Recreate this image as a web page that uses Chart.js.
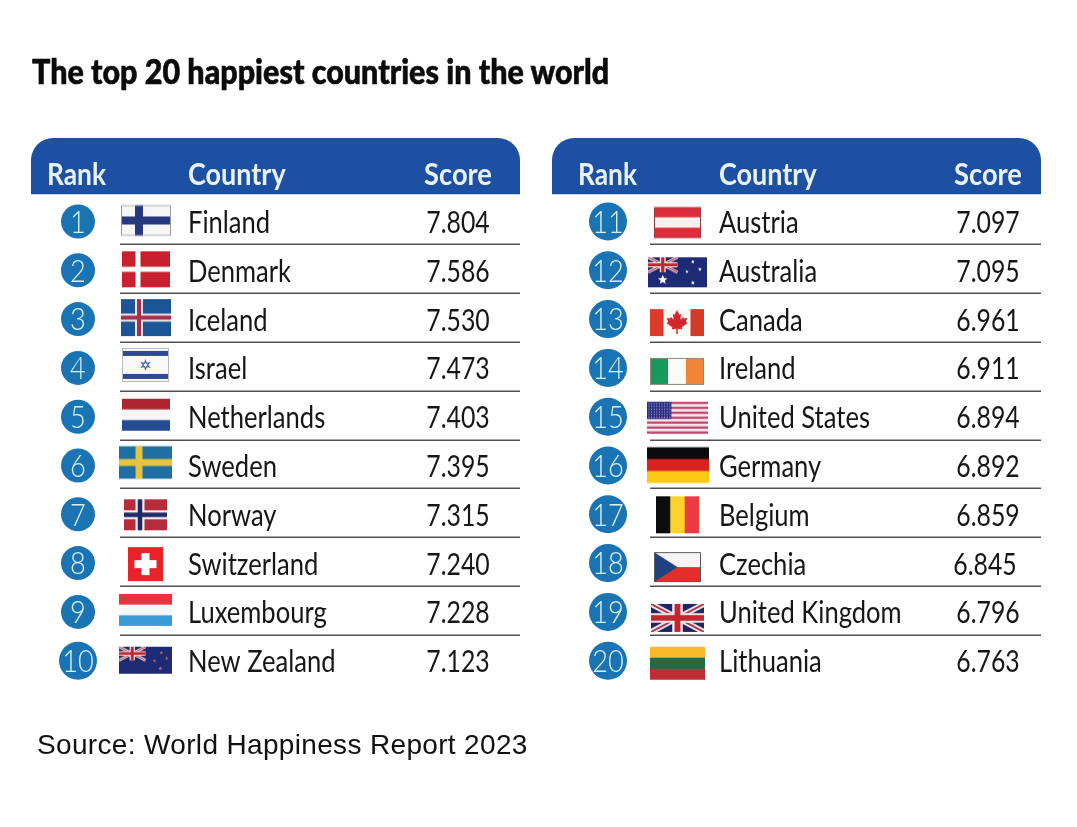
<!DOCTYPE html>
<html>
<head>
<meta charset="utf-8">
<title>The top 20 happiest countries in the world</title>
<script src="https://cdn.jsdelivr.net/npm/chart.js@4"></script>
<style>
  html, body { margin: 0; background: #fff; }
  #wrap { position: relative; width: 1077px; height: 827px; overflow: hidden; }
  canvas { position: absolute; left: 0; top: 0; }
  #title { position: absolute; left: 32px; top: 50px; margin: 0; white-space: nowrap; color: #0b0b0b;
    font: 900 34px Lato, "Liberation Sans", sans-serif; -webkit-text-stroke: 0.6px #0b0b0b; transform-origin: left top; }
  #source { position: absolute; left: 37px; top: 729px; white-space: nowrap; color: #111;
    font: 28px "Liberation Sans", sans-serif; letter-spacing: 0.34px; }
</style>
</head>
<body>
<div id="wrap">
  <canvas id="table" width="1077" height="827"></canvas>
  <h1 id="title">The top 20 happiest countries in the world</h1>
  <div id="source">Source: World Happiness Report 2023</div>
</div>
<script>
const ranks = [1, 2, 3, 4, 5, 6, 7, 8, 9, 10, 11, 12, 13, 14, 15, 16, 17, 18, 19, 20];
const countries = ['Finland', 'Denmark', 'Iceland', 'Israel', 'Netherlands', 'Sweden', 'Norway',
  'Switzerland', 'Luxembourg', 'New Zealand', 'Austria', 'Australia', 'Canada', 'Ireland',
  'United States', 'Germany', 'Belgium', 'Czechia', 'United Kingdom', 'Lithuania'];
const scores = [7.804, 7.586, 7.530, 7.473, 7.403, 7.395, 7.315, 7.240, 7.228, 7.123,
  7.097, 7.095, 6.961, 6.911, 6.894, 6.892, 6.859, 6.845, 6.796, 6.763];
const headers = ['Rank', 'Country', 'Score'];

// column positions on the x scale, one block per table
const tables = [
  { left: 31, right: 520, rank: 78, flag: 146, country: 188, score: 458, ruleFrom: 120, rankHead: 47 },
  { left: 552, right: 1041, rank: 608, flag: 678, country: 719, score: 988, ruleFrom: 650, rankHead: 578 }
];
const face = 'Lato, "Liberation Sans", sans-serif';

const tableOf = r => tables[r <= 10 ? 0 : 1];
const rowOf = r => (r - 1) % 10;

// the installed faces are wider than the original, so text is squeezed horizontally
function squeezed(ctx, str, x, y, font, sx, align) {
  ctx.save();
  ctx.font = font;
  ctx.textAlign = align;
  ctx.translate(x, y);
  ctx.scale(sx, 1);
  ctx.fillText(str, 0, 0);
  ctx.restore();
}

// ---- flags, painted on small canvases and used as point styles ----
function bands(c, w, h, colors, vertical) {
  colors.forEach((col, i) => {
    c.fillStyle = col;
    if (vertical) c.fillRect(i * w / colors.length, 0, w / colors.length + 0.5, h);
    else c.fillRect(0, i * h / colors.length, w, h / colors.length + 0.5);
  });
}
function nordic(c, w, h, bg, outer, inner, t, cx) {
  c.fillStyle = bg; c.fillRect(0, 0, w, h);
  c.fillStyle = outer;
  c.fillRect(cx - t / 2, 0, t, h);
  c.fillRect(0, h / 2 - t / 2, w, t);
  if (inner) {
    c.fillStyle = inner;
    c.fillRect(cx - t / 4, 0, t / 2, h);
    c.fillRect(0, h / 2 - t / 4, w, t / 2);
  }
}
function star(c, x, y, r, n, col) {
  c.fillStyle = col;
  c.beginPath();
  for (let i = 0; i < n * 2; i++) {
    const a = -Math.PI / 2 + i * Math.PI / n, q = i % 2 ? r * 0.45 : r;
    c.lineTo(x + q * Math.cos(a), y + q * Math.sin(a));
  }
  c.closePath();
  c.fill();
}
function union(c, w, h) {
  c.fillStyle = '#20265f'; c.fillRect(0, 0, w, h);
  c.lineCap = 'butt';
  const diag = (col, lw) => {
    c.strokeStyle = col; c.lineWidth = lw;
    c.beginPath(); c.moveTo(0, 0); c.lineTo(w, h); c.moveTo(w, 0); c.lineTo(0, h); c.stroke();
  };
  diag('#f1e8ee', h * 0.2);
  diag('#b5303f', h * 0.07);
  c.fillStyle = '#f1e8ee';
  c.fillRect(w * 0.4, 0, w * 0.2, h); c.fillRect(0, h * 0.33, w, h * 0.34);
  c.fillStyle = '#c5252f';
  c.fillRect(w * 0.445, 0, w * 0.11, h); c.fillRect(0, h * 0.4, w, h * 0.2);
}
function cantonFlag(c, w, h, stars) {
  c.fillStyle = '#1d2a74'; c.fillRect(0, 0, w, h);
  union(c, w * 0.5, h * 0.5);
  stars.forEach(([x, y, r, col]) => star(c, x * w, y * h, r, 5, col));
}

const flagArt = {
  Finland: [-25, -16.5, 50, 31, (c, w, h) => {
    nordic(c, w, h, '#f6f6f6', '#26397f', null, 8, 18);
    c.strokeStyle = '#9a9a9a'; c.strokeRect(0.5, 0.5, w - 1, h - 1);
  }],
  Denmark: [-24, -19, 48, 36, (c, w, h) => nordic(c, w, h, '#c9202f', '#fff', null, 5, 16)],
  Iceland: [-25, -20, 50, 37, (c, w, h) => nordic(c, w, h, '#1c5597', '#efe9ea', '#a52f4d', 8, 18)],
  Israel: [-24, -20, 47, 34, (c, w, h) => {
    c.fillStyle = '#f8f8f8'; c.fillRect(0, 0, w, h);
    c.fillStyle = '#2c4a96'; c.fillRect(0, 3, w, 5); c.fillRect(0, h - 8, w, 5);
    star(c, w / 2, h / 2, 6, 6, '#3f64a8');
    star(c, w / 2, h / 2, 2.5, 6, '#f8f8f8');
    c.strokeStyle = '#b9b9b9'; c.strokeRect(0.5, 0.5, w - 1, h - 1);
  }],
  Netherlands: [-24, -18, 48, 32, (c, w, h) => bands(c, w, h, ['#ad2430', '#f8f5f5', '#244a93'])],
  Sweden: [-27, -19.5, 53, 33, (c, w, h) => nordic(c, w, h, '#1f6fa5', '#e2c440', null, 7, 20)],
  Norway: [-22, -15, 43, 31, (c, w, h) => nordic(c, w, h, '#b52d3c', '#f4eef0', '#1f2b66', 9, 16)],
  Switzerland: [-18, -16, 35, 34, (c, w, h) => {
    c.fillStyle = '#ea2229'; c.fillRect(0, 0, w, h);
    c.fillStyle = '#fff';
    c.fillRect(w / 2 - 4, h / 2 - 11, 8, 22); c.fillRect(w / 2 - 11, h / 2 - 4, 22, 8);
  }],
  Luxembourg: [-27, -18, 53, 32, (c, w, h) => bands(c, w, h, ['#e8333f', '#f7f7f7', '#3b9cd8'])],
  'New Zealand': [-27, -14, 53, 27, (c, w, h) => cantonFlag(c, w, h, [
    [0.67, 0.52, 1.8, '#c9707f'], [0.8, 0.22, 1.8, '#c9707f'], [0.9, 0.42, 1.8, '#c9707f'], [0.78, 0.8, 2, '#c9707f']])],
  Austria: [-24, -14.5, 47, 31, (c, w, h) => {
    bands(c, w, h, ['#dd2c3c', '#f7f3f3', '#dd2c3c']);
    c.strokeStyle = '#9c3a44'; c.strokeRect(0.5, 0.5, w - 1, h - 1);
  }],
  Australia: [-30, -13, 59, 30, (c, w, h) => cantonFlag(c, w, h, [
    [0.25, 0.75, 5, '#fff'], [0.66, 0.48, 1.7, '#fff'], [0.76, 0.15, 2, '#fff'], [0.88, 0.4, 2, '#fff'], [0.76, 0.85, 2.2, '#fff']])],
  Canada: [-28, -10, 54, 27, (c, w, h) => {
    bands(c, w, h, ['#dc3a2a', '#fdf9f6', '#fdf9f6', '#d23a26'], true);
    const s = h / 26;
    c.fillStyle = '#d4252a';
    c.save(); c.translate(w / 2, h / 2 - 1); c.scale(s, s);
    c.beginPath();
    [[0, -11], [2.5, -6.5], [4, -7.5], [3.2, -2], [6, -4.5], [6.5, -3], [10, -3.5], [8.5, 0], [10, 1.5], [4.5, 5.5], [5, 7.5], [0.7, 7],
     [0.7, 12], [-0.7, 12], [-0.7, 7], [-5, 7.5], [-4.5, 5.5], [-10, 1.5], [-8.5, 0], [-10, -3.5], [-6.5, -3], [-6, -4.5], [-3.2, -2], [-4, -7.5], [-2.5, -6.5]]
      .forEach(p => c.lineTo(p[0], p[1]));
    c.closePath(); c.fill();
    c.restore();
  }],
  Ireland: [-28, -10, 54, 27, (c, w, h) => {
    bands(c, w, h, ['#17995a', '#fbfbf8', '#f08538'], true);
    c.strokeStyle = '#8a8a7a'; c.strokeRect(0.5, 0.5, w - 1, h - 1);
  }],
  'United States': [-31, -15, 61, 32, (c, w, h) => {
    for (let i = 0; i < 13; i++) {
      c.fillStyle = i % 2 ? '#f8eef3' : '#c2486e';
      c.fillRect(0, i * h / 13, w, h / 13 + 0.3);
    }
    c.fillStyle = '#2c2f80'; c.fillRect(0, 0, w * 0.4, h * 0.54);
    c.fillStyle = '#b9bfe6';
    for (let a = 0; a < 6; a++) for (let b = 0; b < 9; b++) c.fillRect(1.5 + b * 2.6, 1.5 + a * 2.7, 1, 1);
  }],
  Germany: [-31, -18.5, 62, 36, (c, w, h) => bands(c, w, h, ['#0b0a0c', '#d9211f', '#fdc913'])],
  Belgium: [-22, -18, 43, 37, (c, w, h) => bands(c, w, h, ['#0c0c0c', '#fbd32c', '#ee3b43'], true)],
  Czechia: [-24, -11, 47, 30, (c, w, h) => {
    bands(c, w, h, ['#f5f5f5', '#e32e2c']);
    c.fillStyle = '#21407f';
    c.beginPath(); c.moveTo(0, 0); c.lineTo(w * 0.5, h / 2); c.lineTo(0, h); c.closePath(); c.fill();
    c.strokeStyle = '#5c5c5c'; c.strokeRect(0.5, 0.5, w - 1, h - 1);
  }],
  'United Kingdom': [-27, -8, 53, 28, (c, w, h) => union(c, w, h)],
  Lithuania: [-28, -14, 55, 33, (c, w, h) => bands(c, w, h, ['#f6b82b', '#216a48', '#bf2e34'])]
};

function flagImage(name) {
  const [dx, dy, w, h, paint] = flagArt[name];
  const cv = document.createElement('canvas');
  cv.width = 90; cv.height = 60;
  const c = cv.getContext('2d');
  c.translate(45 + dx, 30 + dy);
  c.save();
  c.beginPath(); c.rect(0, 0, w, h); c.clip();
  paint(c, w, h);
  c.restore();
  return cv;
}

// ---- everything that is not a point: header bands, rules, labels ----
const tablePaint = {
  id: 'tablePaint',
  beforeDatasetsDraw(chart) {
    const { ctx, scales: { x, y } } = chart;
    tables.forEach(t => {
      const top = y.getPixelForValue(-1.71), bottom = y.getPixelForValue(-0.56);
      const l = x.getPixelForValue(t.left), r = x.getPixelForValue(t.right);
      ctx.fillStyle = '#1d4fa3';
      ctx.beginPath();
      ctx.roundRect(l, top, r - l, bottom - top, [22, 22, 0, 0]);
      ctx.fill();
      ctx.strokeStyle = '#505050';
      ctx.lineWidth = 1.5;
      for (let i = 0; i < 9; i++) {
        const py = Math.round(y.getPixelForValue(i + 0.47)) + 0.25;
        ctx.beginPath();
        ctx.moveTo(x.getPixelForValue(t.ruleFrom), py);
        ctx.lineTo(r, py);
        ctx.stroke();
      }
    });
  },
  afterDatasetsDraw(chart) {
    const { ctx, scales: { x, y } } = chart;
    ctx.save();
    ctx.textBaseline = 'middle';
    tables.forEach(t => {
      const hy = y.getPixelForValue(-0.95);
      const font = 'bold 31px ' + face;
      ctx.fillStyle = '#e9f3f7';
      squeezed(ctx, headers[0], x.getPixelForValue(t.rankHead), hy, font, 0.85, 'left');
      squeezed(ctx, headers[1], x.getPixelForValue(t.country), hy, font, 0.87, 'left');
      squeezed(ctx, headers[2], x.getPixelForValue(t.score), hy, font, 0.88, 'center');
    });
    ranks.forEach((r, i) => {
      const t = tableOf(r), py = y.getPixelForValue(rowOf(r));
      ctx.fillStyle = '#d9f1f6';
      squeezed(ctx, String(r), x.getPixelForValue(t.rank), py + 1, '300 32px ' + face, 0.85, 'center');
      ctx.fillStyle = '#161616';
      squeezed(ctx, countries[i], x.getPixelForValue(t.country), py + 1.5, '31px ' + face, 0.825, 'left');
      const nudge = countries[i] === 'Czechia' ? -3 : 0; // this row sits off the column in the original
      squeezed(ctx, scores[i].toFixed(3), x.getPixelForValue(t.score) + nudge, py + 1.5, '31px ' + face, 0.8, 'center');
    });
    ctx.restore();
  }
};

new Chart(document.getElementById('table'), {
  type: 'scatter',
  plugins: [tablePaint],
  data: {
    datasets: [
      {
        label: 'Rank',
        data: ranks.map(r => ({ x: tableOf(r).rank, y: rowOf(r) })),
        pointStyle: 'circle',
        pointRadius: ranks.map(r => (r < 10 ? 17 : 19)),
        pointBackgroundColor: '#1a74b4',
        pointBorderWidth: 0
      },
      {
        label: 'Flag',
        data: ranks.map(r => ({ x: tableOf(r).flag, y: rowOf(r) })),
        pointStyle: countries.map(flagImage),
        pointRadius: 10,
        pointBorderWidth: 0
      }
    ]
  },
  options: {
    responsive: false,
    animation: false,
    devicePixelRatio: 1,
    layout: { autoPadding: false, padding: { left: 0, right: 0, top: 197.1, bottom: 141.9 } },
    plugins: { legend: { display: false }, tooltip: { enabled: false } },
    scales: {
      x: { type: 'linear', min: 0, max: 1077, display: false },
      y: { type: 'linear', min: -0.5, max: 9.5, reverse: true, display: false }
    }
  }
});

const titleEl = document.getElementById('title');
titleEl.style.transform = 'scaleX(' + (577 / titleEl.offsetWidth) + ')';
</script>
</body>
</html>
